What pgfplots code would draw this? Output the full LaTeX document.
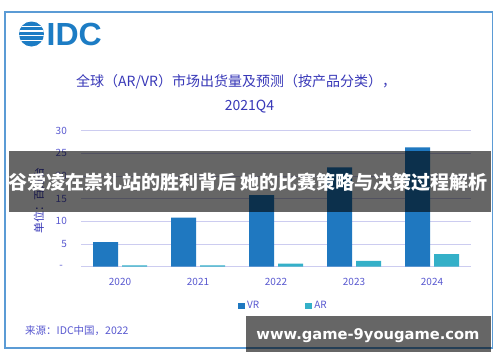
\documentclass[border=0pt]{standalone}
\usepackage{pgfplots}
\pgfplotsset{compat=1.18}
\usepackage{fontspec}
\setmainfont{Noto Sans CJK SC}
\newfontfamily\dejavu{DejaVu Sans}
\newfontfamily\logofont{Liberation Sans}
\definecolor{vrcol}{RGB}{31,120,192}
\definecolor{arcol}{RGB}{52,176,200}
\definecolor{tickcol}{RGB}{88,88,208}
\definecolor{titlecol}{RGB}{56,56,184}
\definecolor{gridcol}{RGB}{204,204,240}
\definecolor{framecol}{RGB}{91,155,213}
\definecolor{logocol}{RGB}{28,124,196}
\pgfplotsset{sqlegend/.style={legend image code/.code={\fill[##1] (0pt,-3pt) rectangle (7pt,3pt);}}}
\begin{document}
\begin{tikzpicture}[x=1pt,y=-1pt]
\path[use as bounding box, fill=white] (0,0) rectangle (500,362);
\draw[framecol, line width=1.5pt] (5,12) rectangle (492.5,348);
% logo
\begin{scope}
\clip (31.5,34) circle (12.5);
\fill[logocol] (18,21) rectangle (45,47);
\foreach \yy in {26.5,31,35.5,40.5} \draw[white,line width=1.7pt] (18,\yy) -- (45,\yy);
\end{scope}
\node[anchor=west, inner sep=0, text=logocol, font=\logofont\bfseries\fontsize{32}{32}\selectfont] at (46.5,34) {IDC};
% title
\node[anchor=west, inner sep=0, text=titlecol, font=\fontsize{14}{16}\selectfont] at (76,82) {全球（AR/VR）市场出货量及预测（按产品分类），};
\node[inner sep=0, text=titlecol, font=\fontsize{14}{16}\selectfont] at (249.5,106.5) {2021Q4};
% y label
\node[rotate=90, inner sep=0, text=titlecol, font=\fontsize{11}{13}\selectfont] at (39,200) {单位：百万台};
\begin{axis}[
  at={(81pt,-266.7pt)}, anchor=south west,
  width=390pt, height=136pt, scale only axis,
  xmin=-0.5, xmax=4.5, ymin=0, ymax=30,
  axis line style={draw=none},
  ymajorgrids, grid style={gridcol, line width=0.9pt},
  major tick length=0pt,
  xtick={0,...,4}, xticklabels={2020,2021,2022,2023,2024},
  ytick={0,5,...,30}, yticklabels={-\hspace*{4pt},5,10,15,20,25,30},
  ticklabel style={font=\fontsize{10}{12}\selectfont, text=tickcol, inner sep=0pt},
  yticklabel style={xshift=-14pt},
  xticklabel style={yshift=-11pt},
  /pgf/number format/assume math mode=true,
  legend style={at={(0.4026,-0.289)}, anchor=west, legend columns=2, draw=none, fill=none,
    inner sep=0pt, font=\fontsize{10}{12}\selectfont, text=tickcol,
    /tikz/every even column/.append style={column sep=44pt}},
  clip=false,
]
\addplot[ybar, bar width=25pt, bar shift=-14.5pt, fill=vrcol, draw=none, sqlegend]
  coordinates {(0,5.4) (1,10.8) (2,15.8) (3,21.9) (4,26.3)};
\addlegendentry{VR}
\addplot[ybar, bar width=25pt, bar shift=14.5pt, fill=arcol, draw=none, sqlegend]
  coordinates {(0,0.3) (1,0.3) (2,0.7) (3,1.3) (4,2.8)};
\addlegendentry{AR}
\end{axis}
% source
\node[anchor=west, inner sep=0, text=tickcol, font=\fontsize{10.5}{12}\selectfont] at (25,331) {来源：IDC中国，2022};
% overlays
\fill[black, opacity=0.6] (9,150.7) rectangle (490.7,211.7);
\node[inner sep=0, text=white, font=\bfseries\fontsize{19}{20}\selectfont] at (248,182) {谷爱凌在崇礼站的胜利背后 她的比赛策略与决策过程解析};
\fill[black, opacity=0.6] (246,316) rectangle (491,352);
\node[inner sep=0, text=white, font=\dejavu\bfseries\fontsize{14.7}{16}\selectfont] at (368,336) {www.game-9yougame.com};
\end{tikzpicture}
\end{document}
